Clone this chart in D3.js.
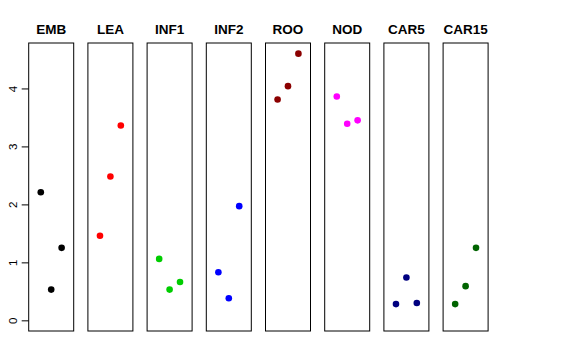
<!DOCTYPE html>
<html>
<head>
<meta charset="utf-8">
<script src="https://cdn.jsdelivr.net/npm/d3@7"></script>
<style>
  body { margin: 0; background: #fff; }
  svg { display: block; font-family: "Liberation Sans", Arial, sans-serif; }
</style>
</head>
<body>
<svg id="chart" width="576" height="360"></svg>
<script>
const groups = ["EMB", "LEA", "INF1", "INF2", "ROO", "NOD", "CAR5", "CAR15"];
const colors = ["#000000", "#ff0000", "#00cd00", "#0000ff", "#8b0000", "#ff00ff", "#000080", "#006400"];
const values = [
  [2.21, 0.53, 1.25],
  [1.46, 2.48, 3.36],
  [1.06, 0.53, 0.66],
  [0.83, 0.38, 1.97],
  [3.81, 4.04, 4.60],
  [3.86, 3.39, 3.45],
  [0.28, 0.74, 0.30],
  [0.28, 0.59, 1.25]
];
const yTicks = [0, 1, 2, 3, 4];

const svg = d3.select("#chart");
const plotTop = 43, plotBottom = 331;
const left = 28.7, step = 59.2, panelW = 45;

// panels placed by a band scale
const xp = d3.scaleBand()
  .domain(groups)
  .range([left, left + step * (groups.length - 1) + panelW])
  .paddingInner((step - panelW) / step)
  .paddingOuter(0);

// R-style 4% expanded limits around [0, 4.6]
const ylo = 0, yhi = 4.6, ext = 0.04 * (yhi - ylo);
const y = d3.scaleLinear().domain([ylo - ext, yhi + ext]).range([plotBottom, plotTop]);

// y axis
const ax = svg.append("g")
  .attr("transform", `translate(${xp(groups[0])},0)`)
  .call(d3.axisLeft(y).tickValues(yTicks).tickSize(7).tickPadding(0).tickFormat(d3.format("d")));
ax.select(".domain").remove();
ax.selectAll(".tick line").attr("stroke", "#000");
ax.selectAll(".tick text")
  .attr("x", null).attr("dy", null)
  .attr("text-anchor", "middle")
  .attr("font-size", 11.5)
  .attr("font-family", "Liberation Sans, Arial, sans-serif")
  .attr("fill", "#000")
  .attr("transform", "translate(-16,0) rotate(-90)")
  .attr("y", 4);

groups.forEach((gname, i) => {
  const g = svg.append("g").attr("transform", `translate(${xp(gname)},0)`);
  const x = d3.scaleLinear().domain([-0.16, 4.16]).range([0, xp.bandwidth()]);

  g.append("rect")
    .attr("x", 0).attr("y", plotTop)
    .attr("width", xp.bandwidth()).attr("height", plotBottom - plotTop)
    .attr("fill", "none").attr("stroke", "#000").attr("stroke-width", 1);

  g.append("text")
    .attr("x", xp.bandwidth() / 2).attr("y", 34)
    .attr("text-anchor", "middle")
    .attr("font-weight", "bold")
    .attr("font-size", 13.5)
    .text(gname);

  g.selectAll("circle")
    .data(values[i])
    .join("circle")
      .attr("cx", (d, j) => x(j + 1))
      .attr("cy", d => y(d))
      .attr("r", 3.3)
      .attr("fill", colors[i]);
});
</script>
</body>
</html>
